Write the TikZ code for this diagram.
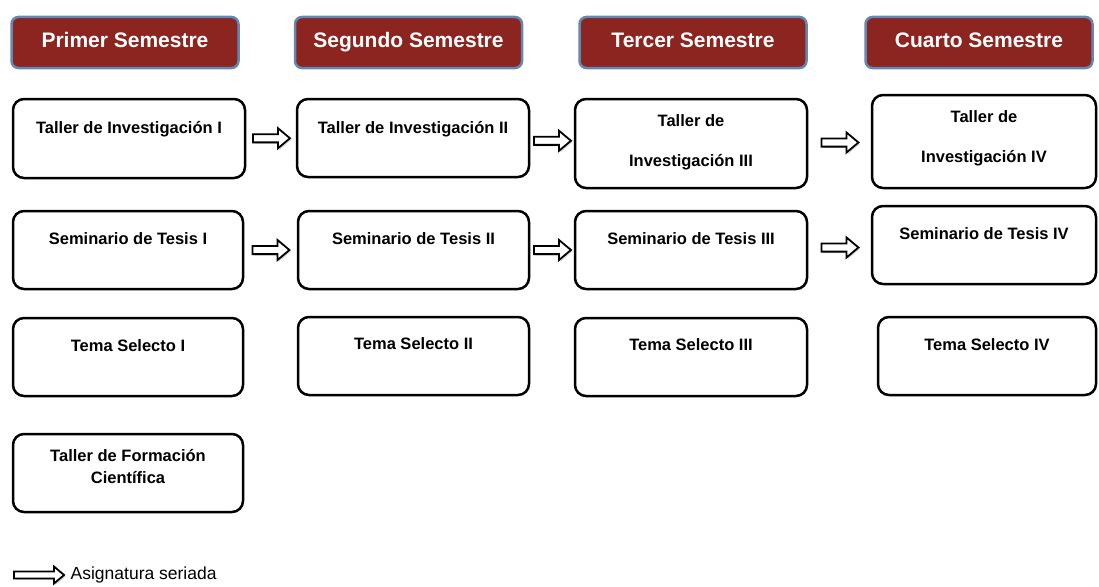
\documentclass[tikz,border=0pt]{standalone}
\usepackage{fontspec}
\setmainfont{Liberation Sans}
\usetikzlibrary{positioning,shapes.arrows,shadows}

\definecolor{headred}{RGB}{140,36,31}
\definecolor{headblue}{RGB}{100,135,180}

\tikzset{
  semestre/.style={draw=headblue, line width=2.5pt, fill=headred, rounded corners=7pt,
    text=white, font=\fontsize{21}{25}\selectfont\bfseries,
    text height=15pt, text depth=5pt,
    minimum width=227pt, minimum height=51pt},
  materia/.style={draw, line width=2.5pt, rounded corners=11pt},
  nombre/.style={inner sep=0pt, align=center, font=\fontsize{16.5}{20}\selectfont\bfseries},
  serie/.style={single arrow, draw, fill=white, line width=1.8pt, inner sep=3.2pt,
    minimum width=0pt, minimum height=37pt, single arrow head extend=6pt,
    single arrow tip angle=80,
    drop shadow={opacity=0.3, shadow xshift=1.5pt, shadow yshift=-1.5pt}}
}

\begin{document}
\begin{tikzpicture}[x=1pt,y=-1pt]
    \useasboundingbox (0,0) rectangle (1099,586);

    % Headers of the four semesters
    \foreach \n/\x/\t in {
        s1/125/Primer Semestre, s2/408.5/Segundo Semestre,
        s3/693/Tercer Semestre, s4/979/Cuarto Semestre
    }
    \node[semestre] (\n) at (\x, 42.5) {\t};

    % Boxes of the courses: name/x/y/width/height
    \foreach \n/\x/\y/\w/\h in {
        a1/129/138.5/232/79, b1/413/138/232/78, c1/691/143.5/232/89, d1/984/141.5/224/93,
        a2/128/250/230/78, b2/413.5/250/231/78, c2/691/250/232/78, d2/984/245/224/78,
        a3/128/357/230/78, b3/413.5/356/231/78, c3/691/357/232/78, d3/987/356/218/78,
        a4/128/473/230/78
    }
    \node[materia, minimum width=\w pt, minimum height=\h pt] (\n) at (\x, \y) {};

    % Names of the courses
    \node[nombre, below=23pt of a1.north] (ta1) {Taller de Investigación I};
    \node[nombre, below=23pt of b1.north] (tb1) {Taller de Investigación II};
    \node[nombre, below=17pt of c1.north, font=\fontsize{16.5}{40}\selectfont\bfseries] (tc1) {Taller de\\Investigación III};
    \node[nombre, below=17pt of d1.north, font=\fontsize{16.5}{40}\selectfont\bfseries] (td1) {Taller de\\Investigación IV};
    \node[nombre, below=23pt of a2.north] (ta2) {Seminario de Tesis I};
    \node[nombre, below=23pt of b2.north] (tb2) {Seminario de Tesis II};
    \node[nombre, below=23pt of c2.north] (tc2) {Seminario de Tesis III};
    \node[nombre, below=23pt of d2.north] (td2) {Seminario de Tesis IV};
    \node[nombre, below=23pt of a3.north] (ta3) {Tema Selecto I};
    \node[nombre, below=22pt of b3.north] (tb3) {Tema Selecto II};
    \node[nombre, below=22pt of c3.north] (tc3) {Tema Selecto III};
    \node[nombre, below=23pt of d3.north] (td3) {Tema Selecto IV};
    \node[nombre, below=16pt of a4.north, font=\fontsize{16.5}{22}\selectfont\bfseries] (ta4) {Taller de Formación\\Científica};

    % Arrows between serial courses
    \foreach \i/\j in {a1/b1, b1/c1, c1/d1, a2/b2, b2/c2, c2/d2}
    \path (\i.east) -- (\j.west) node[serie, midway, xshift=-2pt] {};

    % Legend
    \node[serie, minimum height=50pt, inner sep=2.6pt, single arrow head extend=5pt] (ley) at (37, 575) {};
    \node[right=5pt of ley, inner sep=0pt, font=\fontsize{17.5}{20}\selectfont] (tley) {Asignatura seriada};
\end{tikzpicture}
\end{document}
